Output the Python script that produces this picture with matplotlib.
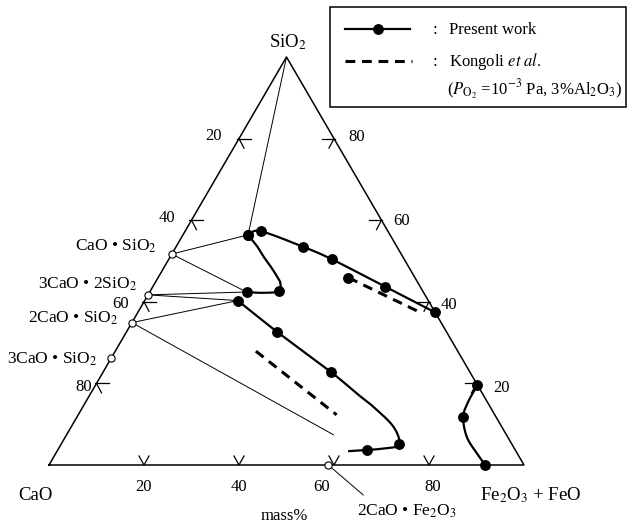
import numpy as np
import matplotlib
matplotlib.use("Agg")
import matplotlib.pyplot as plt
from matplotlib.lines import Line2D
from matplotlib.patches import Rectangle

plt.rcParams['font.family'] = ['Liberation Serif', 'DejaVu Serif']
plt.rcParams['mathtext.fontset'] = 'stix'

# ---------------- data (mass%) ----------------
# Present work: liquidus boundary curves (SiO2, FeO) shape points and measured points
curve_a_sio2 = [56.4, 57.3, 53.5, 50.4, 43.7, 37.4]
curve_a_feo = [13.7, 15.9, 26.7, 34.4, 48.9, 62.6]
curve_a_pts = [0, 1, 2, 3, 4, 5]

curve_b_sio2 = [56.4, 53.8, 51.1, 48.6, 46.2, 44.6, 42.6, 42.2, 42.4]
curve_b_feo = [13.7, 16.8, 19.6, 22.4, 24.9, 26.4, 27.1, 24.0, 20.4]
curve_b_pts = [0, 6, 8]

curve_c_sio2 = [40.3, 32.7, 22.7, 17.8, 14.3, 9.4, 5.1, 4.1, 3.7, 3.4]
curve_c_feo = [19.6, 31.6, 48.1, 55.6, 61.1, 67.8, 71.2, 69.0, 65.0, 61.5]
curve_c_pts = [0, 1, 2, 6, 8]

curve_d_sio2 = [19.6, 15.5, 11.8, 6.9, 2.9, 0.0]
curve_d_feo = [80.4, 80.5, 81.3, 84.5, 88.6, 91.8]
curve_d_pts = [0, 2, 5]

extra_sio2 = [45.9]
extra_feo = [40.1]

# Kongoli et al. (dashed)
kong1_sio2 = [45.9, 37.2]
kong1_feo = [40.1, 59.9]
kong2_sio2 = [27.9, 12.3]
kong2_feo = [29.6, 54.4]

# Compounds
comp_names = ['CaO • SiO$_2$', '3CaO • 2SiO$_2$', '2CaO • SiO$_2$', '3CaO • SiO$_2$',
              '2CaO • Fe$_2$O$_3$']
comp_sio2 = [51.7, 41.7, 34.9, 26.3, 0.0]
comp_feo = [0.0, 0.0, 0.0, 0.0, 58.8]

# Tie lines (thin)
tie_a_sio2 = [100.0, 51.7, 51.7, 41.7, 41.7, 34.9, 34.9]
tie_a_feo = [0.0, 0.0, 0.0, 0.0, 0.0, 0.0, 0.0]
tie_b_sio2 = [56.4, 56.4, 42.4, 42.4, 40.3, 40.3, 7.4]
tie_b_feo = [13.7, 13.7, 20.4, 20.4, 19.6, 19.6, 56.2]

tick_values = [20, 40, 60, 80]
tick_labels = ['20', '40', '60', '80']

# ---------------- layout ----------------
W, H = 634, 523
X0, Y0, SIDE, HT = 49, 465, 475, 408
fig = plt.figure(figsize=(W / 100, H / 100), dpi=100)
ax = fig.add_axes([X0 / W, (H - Y0) / H, SIDE / W, HT / H])
ax.set_xlim(0, 1)
ax.set_ylim(0, 1)
ax.axis('off')

PX = 1.0 / SIDE
PY = 1.0 / HT


def tern(sio2, feo):
    s = np.asarray(sio2, float) / 100.0
    f = np.asarray(feo, float) / 100.0
    return f + s / 2.0, s


def smooth(x, y, n=30):
    pts = np.column_stack([np.asarray(x) / PX, np.asarray(y) / PY])
    p = np.vstack([2 * pts[0] - pts[1], pts, 2 * pts[-1] - pts[-2]])
    out = []
    for i in range(1, len(p) - 2):
        p0, p1, p2, p3 = p[i - 1], p[i], p[i + 1], p[i + 2]
        t = np.linspace(0, 1, n, endpoint=False)[:, None]
        seg = 0.5 * ((2 * p1) + (-p0 + p2) * t + (2 * p0 - 5 * p1 + 4 * p2 - p3) * t ** 2
                     + (-p0 + 3 * p1 - 3 * p2 + p3) * t ** 3)
        out.append(seg)
    out.append(pts[-1:])
    r = np.vstack(out)
    return r[:, 0] * PX, r[:, 1] * PY


def ptext(x, y, s, **kw):
    fig.text(x / W, 1 - y / H, s, **kw)


# triangle
ax.plot([0, 1, 0.5, 0], [0, 0, 1, 0], color='black', lw=1.1, solid_joinstyle='miter',
        clip_on=False)

# ticks
tk = dict(color='black', lw=0.9, clip_on=False)
for v in tick_values:
    # bottom (FeO)
    bx = v / 100.0
    ax.plot([bx - 5 * PX, bx, bx + 5 * PX], [9 * PY, 0, 9 * PY], **tk)
    # left (CaO), point with SiO2 = 100 - v
    lx, ly = tern(100 - v, 0)
    ax.plot([lx - 2 * PX, lx + 12 * PX], [ly, ly], **tk)
    ax.plot([lx, lx + 5 * PX], [ly, ly - 9.5 * PY], **tk)
    # right (SiO2)
    rx, ry = tern(v, 100 - v)
    ax.plot([rx + 1 * PX, rx - 12 * PX], [ry, ry], **tk)
    ax.plot([rx, rx - 5 * PX], [ry, ry - 9.5 * PY], **tk)

# tie lines
for a_s, a_f, b_s, b_f in zip(tie_a_sio2, tie_a_feo, tie_b_sio2, tie_b_feo):
    xa, ya = tern(a_s, a_f)
    xb, yb = tern(b_s, b_f)
    ax.plot([xa, xb], [ya, yb], color='black', lw=0.7, clip_on=False)

# leader for 2CaO.Fe2O3
cx, cy = tern(comp_sio2[4], comp_feo[4])
ax.plot([cx, cx + 35 * PX], [cy, cy - 30 * PY], color='black', lw=0.7, clip_on=False)

# Present work curves
for cs, cf, idx in [(curve_a_sio2, curve_a_feo, curve_a_pts),
                    (curve_b_sio2, curve_b_feo, curve_b_pts),
                    (curve_c_sio2, curve_c_feo, curve_c_pts),
                    (curve_d_sio2, curve_d_feo, curve_d_pts)]:
    x, y = tern(cs, cf)
    sx, sy = smooth(x, y)
    ax.plot(sx, sy, color='black', lw=1.6, clip_on=False, zorder=3)
    ax.plot(x[idx], y[idx], 'o', color='black', ms=6.8, clip_on=False, zorder=4)

ex, ey = tern(extra_sio2, extra_feo)
ax.plot(ex, ey, 'o', color='black', ms=6.8, clip_on=False, zorder=4)

# Kongoli dashed
for ks, kf in [(kong1_sio2, kong1_feo), (kong2_sio2, kong2_feo)]:
    x, y = tern(ks, kf)
    ax.plot(x, y, color='black', lw=2.2, dashes=(3.2, 2.2), clip_on=False, zorder=3)

# compounds
x, y = tern(comp_sio2, comp_feo)
ax.plot(x, y, 'o', mfc='white', mec='black', mew=0.8, ms=5.2, clip_on=False, zorder=5)

# ---------------- texts ----------------
big = 13.5
mid = 12.5
small = 12
ptext(288, 47, 'SiO$_2$', ha='center', va='baseline', fontsize=big)
ptext(35, 500, 'CaO', ha='center', va='baseline', fontsize=big)
ptext(531, 500, 'Fe$_2$O$_3$ + FeO', ha='center', va='baseline', fontsize=big)
ptext(284, 520, 'mass%', ha='center', va='baseline', fontsize=small)

bottom_pos = [(144, 491), (239, 491), (322, 491), (433, 491)]
left_pos = [(214, 140), (167, 222), (121, 308), (84, 391)]
right_pos = [(357, 141), (402, 225), (449, 309), (502, 392)]
for lab, bp in zip(tick_labels, bottom_pos):
    ptext(bp[0], bp[1], lab, ha='center', va='baseline', fontsize=small)
for lab, lp in zip(tick_labels, left_pos):
    ptext(lp[0], lp[1], lab, ha='center', va='baseline', fontsize=small)
for lab, rp in zip(tick_labels[::-1], right_pos):
    ptext(rp[0], rp[1], lab, ha='center', va='baseline', fontsize=small)

comp_text_pos = [(157, 251, 'right'), (137, 289, 'right'), (118, 323, 'right'),
                 (97, 364, 'right'), (357, 516, 'left')]
for name, (tx, ty, ha) in zip(comp_names, comp_text_pos):
    ptext(tx, ty, name, ha=ha, va='baseline', fontsize=mid)

# ---------------- legend ----------------
fig.add_artist(Rectangle((330 / W, 1 - 107 / H), (626 - 330) / W, 100 / H,
                         transform=fig.transFigure, fill=False, ec='black', lw=1.1))
fig.add_artist(Line2D([345 / W, 410 / W], [1 - 29 / H, 1 - 29 / H],
                      transform=fig.transFigure, color='black', lw=1.6))
fig.add_artist(Line2D([378 / W], [1 - 29 / H], transform=fig.transFigure, marker='o',
                      color='black', ms=6.8, lw=0))
fig.add_artist(Line2D([345 / W, 412 / W], [1 - 61 / H, 1 - 61 / H],
                      transform=fig.transFigure, color='black', lw=2.2, dashes=(3.2, 2.2)))
ptext(433, 34, ':', ha='left', va='baseline', fontsize=small)
ptext(449, 34, 'Present work', ha='left', va='baseline', fontsize=small)
ptext(433, 66, ':', ha='left', va='baseline', fontsize=small)
ptext(449, 66, 'Kongoli $\\mathit{et\\ al.}$', ha='left', va='baseline', fontsize=small)
ptext(447, 95, '($P_{\\mathrm{O}_2}$ =10$^{-3}$ Pa, 3%Al$_2$O$_3$)', ha='left',
      va='baseline', fontsize=small)

fig.savefig('out.png', dpi=100)
